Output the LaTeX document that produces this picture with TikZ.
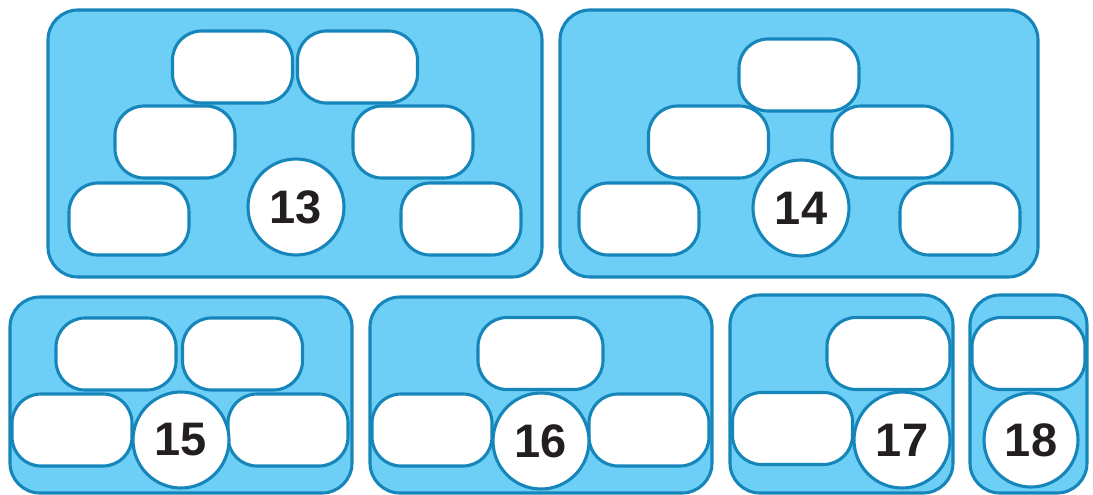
\documentclass[tikz,border=0pt]{standalone}
\usepackage{fontspec}
\setmainfont{Liberation Sans}
\usetikzlibrary{positioning}
\definecolor{panelfill}{RGB}{110, 207, 246}
\definecolor{panelline}{RGB}{22, 134, 186}
\definecolor{numink}{RGB}{35, 31, 32}

\tikzset{
    panel/.style={draw=panelline, fill=panelfill, line width=3.1pt, rounded corners=30pt},
    cell/.style={draw=panelline, fill=white, line width=3.1pt, rounded corners=29pt,
        minimum width=120pt, minimum height=72pt, inner sep=0pt},
    numdisc/.style={circle, draw=panelline, fill=white, line width=3.1pt,
        minimum size=96pt, inner sep=0pt, text=numink,
        font=\fontsize{47}{47}\selectfont\bfseries}
}

\begin{document}
\begin{tikzpicture}[x=1pt, y=-1pt]
    \useasboundingbox (0,0) rectangle (1093,495);

    % panel 13
    \draw[panel] (48,10) rectangle (542,277);
    \node[cell] (a13tl) at (232.5,67) {};
    \node[cell] (a13tr) at (357.5,67) {};
    \node[cell] (a13ml) at (175,142) {};
    \node[cell] (a13mr) at (413,142) {};
    \node[cell] (a13bl) at (129,219) {};
    \node[cell] (a13br) at (461,219) {};
    \node[numdisc] (n13) at (296,207) {13};

    % panel 14
    \draw[panel] (560,10) rectangle (1038,277);
    \node[cell] (a14t)  at (799,75) {};
    \node[cell] (a14ml) at (708.5,142) {};
    \node[cell] (a14mr) at (892,142) {};
    \node[cell] (a14bl) at (639,219) {};
    \node[cell] (a14br) at (960,219) {};
    \node[numdisc] (n14) at (801,208) {14};

    % panel 15
    \draw[panel] (10,297) rectangle (352,493);
    \node[cell] (a15tl) at (116,354) {};
    \node[cell] (a15tr) at (242.5,354) {};
    \node[cell] (a15bl) at (72,430) {};
    \node[cell] (a15br) at (288,430) {};
    \node[numdisc] (n15) at (181,440) {15};

    % panel 16
    \draw[panel] (370,297) rectangle (712,493);
    \node[cell, minimum width=125pt] (a16t) at (540.5,353.5) {};
    \node[cell] (a16bl) at (432,430) {};
    \node[cell] (a16br) at (649,430) {};
    \node[numdisc] (n16) at (541,441) {16};

    % panel 17
    \draw[panel] (730,295) rectangle (953,493);
    \node[cell, minimum width=123pt] (a17tr) at (888.5,353.5) {};
    \node[cell] (a17bl) at (792.5,428.5) {};
    \node[numdisc] (n17) at (902,440) {17};

    % panel 18
    \draw[panel] (970,295) rectangle (1087,493);
    \node[cell, minimum width=113pt] (a18t) at (1028.5,353.5) {};
    \node[numdisc, minimum size=94pt] (n18) at (1031,440) {18};
\end{tikzpicture}
\end{document}
